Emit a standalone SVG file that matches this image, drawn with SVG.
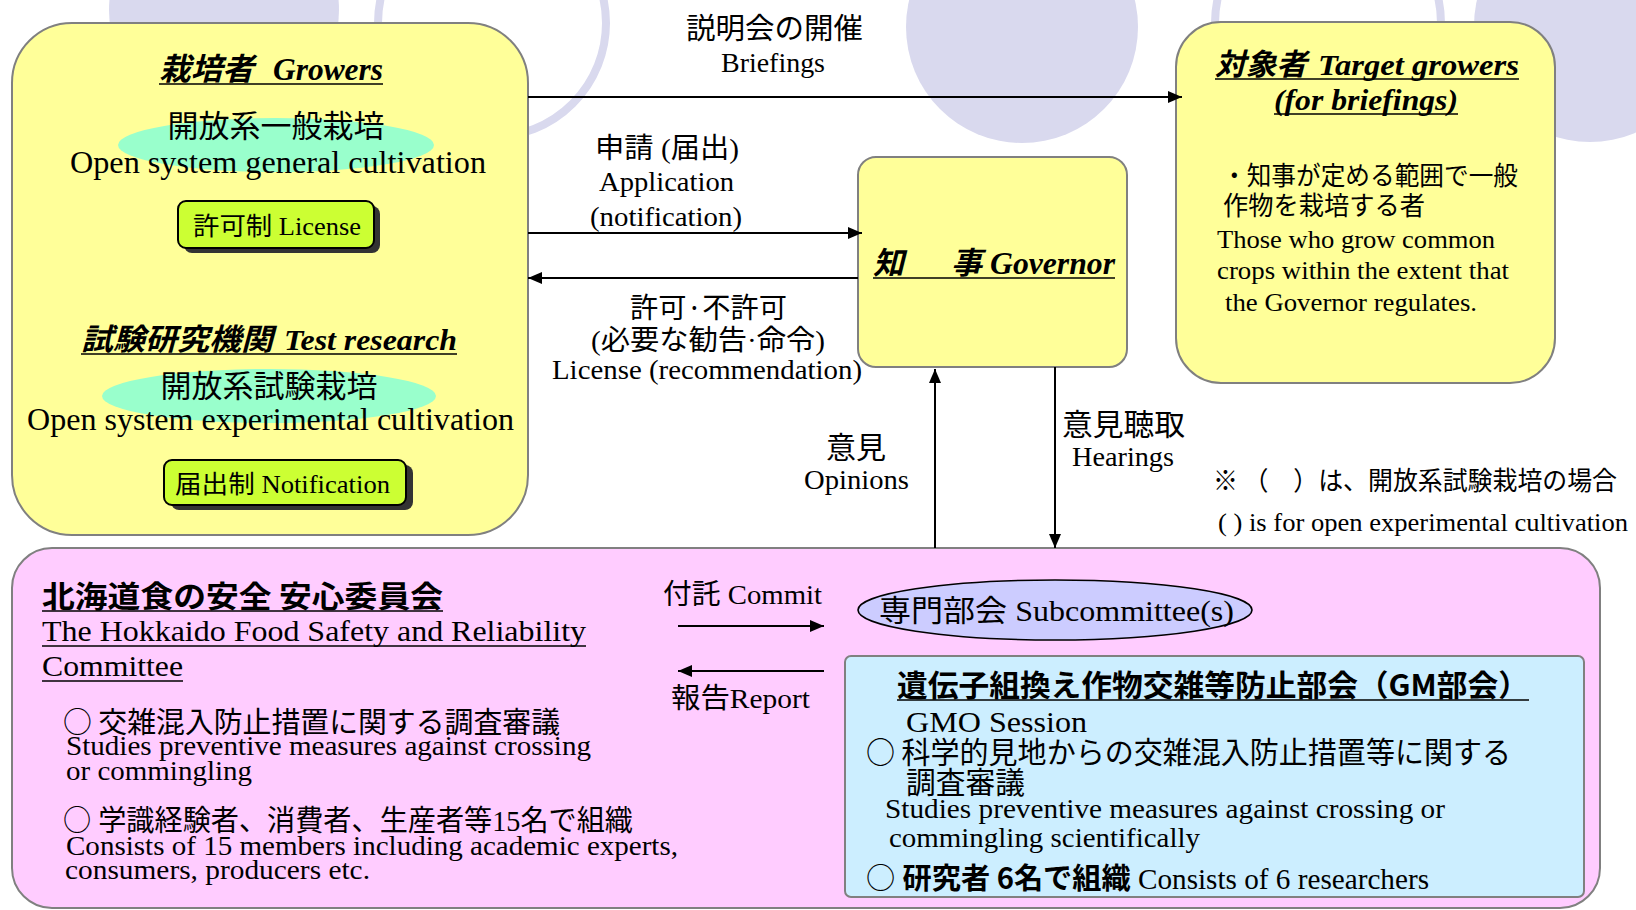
<svg xmlns="http://www.w3.org/2000/svg" width="1636" height="910" viewBox="0 0 1636 910">
<defs>
<style>
.t{font-family:'Liberation Serif','Noto Sans CJK JP',serif;fill:#000}
.j{font-family:'Noto Sans CJK JP',sans-serif;fill:#000}
.bi{font-weight:bold;font-style:italic}
.b{font-weight:bold}
.box{fill:#ffff99;stroke:#808080;stroke-width:2}
.ul{stroke:#000;stroke-width:1.6}
.ar{stroke:#000;stroke-width:2;fill:none;marker-end:url(#ah)}
.bg{fill:#d9d9ee}
.ring{fill:none;stroke:#d9d9ee;stroke-width:8}
.btn{fill:#ccff33;stroke:#000;stroke-width:2}
.sh{fill:#333333}
</style>
<marker id="ah" viewBox="0 0 14 12" refX="14" refY="6" markerWidth="14" markerHeight="12" markerUnits="userSpaceOnUse" orient="auto"><path d="M0,0 L14,6 L0,12 z" fill="#000"/></marker>
</defs>
<rect width="1636" height="910" fill="#ffffff"/>
<g id="background">
<circle class="bg" cx="224" cy="10" r="115"/>
<circle class="ring" cx="492" cy="23" r="114"/>
<circle class="bg" cx="1022" cy="27" r="116"/>
<circle class="ring" cx="1328" cy="23" r="113"/>
<circle class="bg" cx="1590" cy="26" r="116"/>
</g>
<g id="growers">
<rect class="box" x="12" y="23" width="516" height="512" rx="60" ry="60"/>
<text class="t bi" y="80" font-size="31"><tspan x="159" textLength="95" lengthAdjust="spacingAndGlyphs">栽培者</tspan><tspan x="273" textLength="110" lengthAdjust="spacingAndGlyphs">Growers</tspan></text>
<line class="ul" x1="159" y1="84" x2="383" y2="84"/>
<ellipse cx="276" cy="145" rx="158" ry="27" fill="#99ffcc"/>
<text class="j" x="276" y="137" font-size="31" text-anchor="middle">開放系一般栽培</text>
<text class="t" x="70" y="173" font-size="31" textLength="416" lengthAdjust="spacingAndGlyphs">Open system general cultivation</text>
<rect class="sh" x="184" y="206" width="196" height="47" rx="8"/>
<rect class="btn" x="178" y="201" width="196" height="47" rx="8"/>
<text class="t" x="193" y="235" font-size="25" textLength="168" lengthAdjust="spacingAndGlyphs">許可制 License</text>
<text class="t bi" y="350" font-size="30"><tspan x="81" textLength="192" lengthAdjust="spacingAndGlyphs">試験研究機関</tspan><tspan x="284" textLength="173" lengthAdjust="spacingAndGlyphs">Test research</tspan></text>
<line class="ul" x1="81" y1="354" x2="457" y2="354"/>
<ellipse cx="269" cy="396" rx="167" ry="27" fill="#99ffcc"/>
<text class="j" x="269" y="397" font-size="31" text-anchor="middle">開放系試験栽培</text>
<text class="t" x="27" y="430" font-size="31" textLength="487" lengthAdjust="spacingAndGlyphs">Open system experimental cultivation</text>
<rect class="sh" x="171" y="465" width="242" height="45" rx="8"/>
<rect class="btn" x="164" y="460" width="242" height="45" rx="8"/>
<text class="t" x="175" y="493" font-size="25" textLength="215" lengthAdjust="spacingAndGlyphs">届出制 Notification</text>
</g>
<g id="governor">
<rect class="box" x="858" y="157" width="269" height="210" rx="18" ry="18"/>
<text class="t bi" y="274" font-size="31"><tspan x="873">知</tspan><tspan x="951">事</tspan><tspan x="990" textLength="125" lengthAdjust="spacingAndGlyphs">Governor</tspan></text>
<line class="ul" x1="873" y1="278" x2="1115" y2="278"/>
</g>
<g id="target">
<rect class="box" x="1176" y="22" width="379" height="361" rx="45" ry="45"/>
<text class="t bi" y="75" font-size="30"><tspan x="1215" textLength="92" lengthAdjust="spacingAndGlyphs">対象者</tspan><tspan x="1318" textLength="201" lengthAdjust="spacingAndGlyphs">Target growers</tspan></text>
<line class="ul" x1="1215" y1="79" x2="1519" y2="79"/>
<text class="t bi" x="1274" y="110" font-size="30" textLength="184" lengthAdjust="spacingAndGlyphs">(for briefings)</text>
<line class="ul" x1="1274" y1="114" x2="1458" y2="114"/>
<text class="j" x="1222" y="185" font-size="26" textLength="296" lengthAdjust="spacingAndGlyphs">・知事が定める範囲で一般</text>
<text class="j" x="1223" y="215" font-size="26" textLength="202" lengthAdjust="spacingAndGlyphs">作物を栽培する者</text>
<text class="t" x="1217" y="248" font-size="26" textLength="278" lengthAdjust="spacingAndGlyphs">Those who grow common</text>
<text class="t" x="1217" y="279" font-size="26" textLength="292" lengthAdjust="spacingAndGlyphs">crops within the extent that</text>
<text class="t" x="1225" y="311" font-size="26" textLength="252" lengthAdjust="spacingAndGlyphs">the Governor regulates.</text>
</g>
<g id="committee">
<rect x="12" y="548" width="1588" height="360" rx="40" ry="40" fill="#ffccff" stroke="#808080" stroke-width="2"/>
<text class="j b" x="42" y="607" font-size="30" textLength="401" lengthAdjust="spacingAndGlyphs">北海道食の安全 安心委員会</text>
<line class="ul" x1="42" y1="611" x2="443" y2="611"/>
<text class="t" x="42" y="641" font-size="30" textLength="544" lengthAdjust="spacingAndGlyphs">The Hokkaido Food Safety and Reliability</text>
<line class="ul" x1="42" y1="646" x2="586" y2="646"/>
<text class="t" x="42" y="676" font-size="30" textLength="141" lengthAdjust="spacingAndGlyphs">Committee</text>
<line class="ul" x1="42" y1="681" x2="183" y2="681"/>
<text class="j" x="63" y="733" font-size="29" textLength="497" lengthAdjust="spacingAndGlyphs">○ 交雑混入防止措置に関する調査審議</text>
<text class="t" x="66" y="755" font-size="28" textLength="525" lengthAdjust="spacingAndGlyphs">Studies preventive measures against crossing</text>
<text class="t" x="66" y="780" font-size="28" textLength="186" lengthAdjust="spacingAndGlyphs">or commingling</text>
<text class="t" x="63" y="831" font-size="29" textLength="570" lengthAdjust="spacingAndGlyphs"><tspan class="j">○</tspan> 学識経験者、消費者、生産者等15名で組織</text>
<text class="t" x="66" y="855" font-size="28" textLength="612" lengthAdjust="spacingAndGlyphs">Consists of 15 members including academic experts,</text>
<text class="t" x="65" y="879" font-size="28" textLength="305" lengthAdjust="spacingAndGlyphs">consumers, producers etc.</text>
</g>
<g id="subcommittee">
<ellipse cx="1055" cy="610" rx="197" ry="30" fill="#ccccff" stroke="#000" stroke-width="1.6"/>
<text class="t" x="879" y="621" font-size="30" textLength="355" lengthAdjust="spacingAndGlyphs">専門部会 Subcommittee(s)</text>
</g>
<g id="gm-session">
<rect x="845" y="656" width="739" height="241" rx="6" ry="6" fill="#cceeff" stroke="#808080" stroke-width="2"/>
<text class="j b" x="897" y="696" font-size="30" textLength="632" lengthAdjust="spacingAndGlyphs">遺伝子組換え作物交雑等防止部会（GM部会）</text>
<line class="ul" x1="897" y1="700" x2="1529" y2="700"/>
<text class="t" x="906" y="732" font-size="29" textLength="181" lengthAdjust="spacingAndGlyphs">GMO Session</text>
<text class="j" x="866" y="763" font-size="30" textLength="645" lengthAdjust="spacingAndGlyphs">○ 科学的見地からの交雑混入防止措置等に関する</text>
<text class="j" x="906" y="793" font-size="30" textLength="119" lengthAdjust="spacingAndGlyphs">調査審議</text>
<text class="t" x="885" y="818" font-size="28" textLength="560" lengthAdjust="spacingAndGlyphs">Studies preventive measures against crossing or</text>
<text class="t" x="889" y="847" font-size="28" textLength="311" lengthAdjust="spacingAndGlyphs">commingling scientifically</text>
<text class="t" x="866" y="889" font-size="29" textLength="563" lengthAdjust="spacingAndGlyphs"><tspan class="j">○</tspan> <tspan class="j b">研究者 6名で組織</tspan>  Consists of 6 researchers</text>
</g>
<g id="connectors">
<line class="ar" x1="528" y1="97" x2="1182" y2="97"/>
<line class="ar" x1="528" y1="233" x2="862" y2="233"/>
<line class="ar" x1="858" y1="278" x2="528" y2="278"/>
<line class="ar" x1="935" y1="548" x2="935" y2="369"/>
<line class="ar" x1="1055" y1="367" x2="1055" y2="548"/>
<line class="ar" x1="678" y1="626" x2="824" y2="626"/>
<line class="ar" x1="824" y1="671" x2="678" y2="671"/>
</g>
<g id="labels">
<text class="j" x="686" y="39" font-size="29" textLength="177" lengthAdjust="spacingAndGlyphs">説明会の開催</text>
<text class="t" x="721" y="72" font-size="28" textLength="104" lengthAdjust="spacingAndGlyphs">Briefings</text>
<text class="t" x="595" y="158" font-size="28" textLength="144" lengthAdjust="spacingAndGlyphs">申請 (届出)</text>
<text class="t" x="599" y="191" font-size="28" textLength="135" lengthAdjust="spacingAndGlyphs">Application</text>
<text class="t" x="590" y="226" font-size="28" textLength="152" lengthAdjust="spacingAndGlyphs">(notification)</text>
<text class="j" x="630" y="318" font-size="28" textLength="157" lengthAdjust="spacingAndGlyphs">許可·不許可</text>
<text class="t" x="591" y="350" font-size="28" textLength="234" lengthAdjust="spacingAndGlyphs">(必要な勧告·命令)</text>
<text class="t" x="552" y="379" font-size="28" textLength="310" lengthAdjust="spacingAndGlyphs">License (recommendation)</text>
<text class="j" x="856" y="458" font-size="30" text-anchor="middle">意見</text>
<text class="t" x="804" y="489" font-size="28" textLength="105" lengthAdjust="spacingAndGlyphs">Opinions</text>
<text class="j" x="1062" y="435" font-size="30" textLength="123" lengthAdjust="spacingAndGlyphs">意見聴取</text>
<text class="t" x="1072" y="466" font-size="28" textLength="102" lengthAdjust="spacingAndGlyphs">Hearings</text>
<text class="j" x="1213" y="490" font-size="26" textLength="404" lengthAdjust="spacingAndGlyphs">※ （　）は、開放系試験栽培の場合</text>
<text class="t" x="1218" y="531" font-size="25" textLength="410" lengthAdjust="spacingAndGlyphs">( ) is for open experimental cultivation</text>
<text class="t" x="663" y="604" font-size="28" textLength="159" lengthAdjust="spacingAndGlyphs">付託 Commit</text>
<text class="t" x="671" y="708" font-size="28" textLength="139" lengthAdjust="spacingAndGlyphs">報告Report</text>
</g>
</svg>
